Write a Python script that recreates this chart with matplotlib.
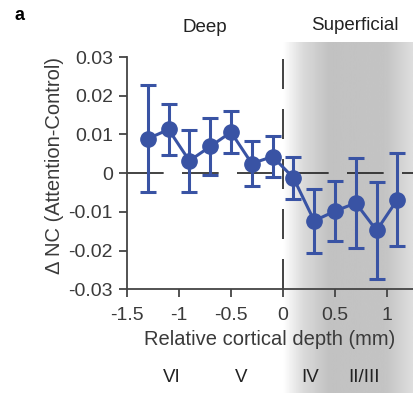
import numpy as np
import matplotlib
matplotlib.use("Agg")
import matplotlib.pyplot as plt

plt.rcParams['font.family'] = ['Liberation Sans', 'DejaVu Sans']

# depth bins (mm) and attention-control noise correlation difference
depth = [-1.3, -1.1, -0.9, -0.7, -0.5, -0.3, -0.1, 0.1, 0.3, 0.5, 0.7, 0.9, 1.1]
dnc = [0.0089, 0.0113, 0.0032, 0.0069, 0.0106, 0.0025, 0.0043,
       -0.0012, -0.0123, -0.0098, -0.0077, -0.0148, -0.0068]
dnc_err = [0.0138, 0.0065, 0.0080, 0.0073, 0.0055, 0.0057, 0.0052,
           0.0055, 0.0083, 0.0078, 0.0115, 0.0126, 0.0120]

xticks = [-1.5, -1, -0.5, 0, 0.5, 1]
xticklabels = ["-1.5", "-1", "-0.5", "0", "0.5", "1"]
yticks = [0.03, 0.02, 0.01, 0, -0.01, -0.02, -0.03]
yticklabels = ["0.03", "0.02", "0.01", "0", "-0.01", "-0.02", "-0.03"]

layers = ["VI", "V", "IV", "II/III"]
layer_x = [-1.07, -0.40, 0.26, 0.78]

blue = "#3953a4"
W, H = 413, 393

fig = plt.figure(figsize=(W / 100, H / 100), dpi=100)

# gray gradient behind the superficial half (reaches the bottom of the figure)
bg = fig.add_axes([283 / W, 0, 130 / W, (H - 42) / H])
u = np.linspace(0, 1, 200)
shade = np.interp(u, [0, 0.15, 0.35, 0.8, 1.0], [1.0, 0.86, 0.76, 0.77, 0.87])
bg.imshow(shade[None, :], aspect="auto", cmap="gray", vmin=0, vmax=1,
          extent=[0, 1, 0, 1])
bg.axis("off")

ax = fig.add_axes([127 / W, (H - 289.3) / H, (413 - 127) / W, (289.3 - 42) / H])
ax.patch.set_alpha(0)
ax.set_xlim(-1.5, 1.25)
ax.set_ylim(-0.03, 0.0339)

ax.axhline(0, color="#222222", lw=1.2, ls=(0, (22, 11)), zorder=1)
ax.plot([0, 0], [-0.03, 0.0326], color="#222222", lw=1.2, ls=(0, (18, 12)), zorder=1)

ax.errorbar(depth, dnc, yerr=dnc_err, color=blue, lw=2.2, elinewidth=2.2,
            capsize=6, capthick=2.2, marker="o", markersize=11, zorder=3)

for s in ["top", "right"]:
    ax.spines[s].set_visible(False)
for s in ["left", "bottom"]:
    ax.spines[s].set_color("#444444")
    ax.spines[s].set_linewidth(1.3)
ax.spines["left"].set_bounds(-0.03, 0.03)

ax.set_xticks(xticks)
ax.set_xticklabels(xticklabels)
ax.set_yticks(yticks)
ax.set_yticklabels(yticklabels)
ax.tick_params(direction="out", length=6, width=1.3, color="#444444",
               labelsize=14, labelcolor="#3a3a3a", pad=4)
ax.tick_params(axis="x", pad=7)

ax.set_xlabel("Relative cortical depth (mm)", fontsize=14.5, color="#3a3a3a", labelpad=4)
ax.set_ylabel("\u0394 NC (Attention-Control)", fontsize=14.5, color="#3a3a3a", labelpad=3)

fig.text(15 / W, 1 - 15 / H, "a", fontsize=13, fontweight="bold", va="center", ha="left")
fig.text(205 / W, 1 - 27 / H, "Deep", fontsize=13.5, va="center", ha="center", color="#222222")
fig.text(355 / W, 1 - 25 / H, "Superficial", fontsize=13.5, va="center", ha="center", color="#222222")

for name, lx in zip(layers, layer_x):
    ax.text(lx, -0.03 - 88 / 38.8 * 0.01, name, fontsize=13.5, ha="center", va="center",
            color="#222222", clip_on=False)

fig.savefig("out.png", dpi=100)
